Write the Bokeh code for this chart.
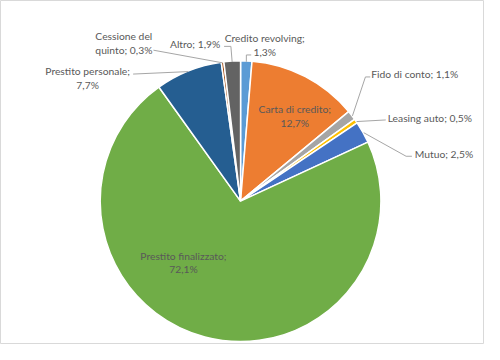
import numpy as np
from bokeh.plotting import figure
from bokeh.models import Range1d, ColumnDataSource
from bokeh.core.properties import value
from bokeh.embed import file_html
from bokeh.resources import INLINE

# ---- data ----
categories = ["Credito revolving", "Carta di credito", "Fido di conto", "Leasing auto",
              "Mutuo", "Prestito finalizzato", "Prestito personale",
              "Cessione del quinto", "Altro"]
values = [1.3, 12.7, 1.1, 0.5, 2.5, 72.1, 7.7, 0.3, 1.9]
colors = ["#5B9BD5", "#ED7D31", "#A5A5A5", "#FFC000", "#4472C4",
          "#70AD47", "#255E91", "#9E480E", "#636363"]

# ---- layout (coords of the 500x360 reference frame) ----
CX, CY, R = 248, 210, 145

def Y(ys):
    return 360 - ys

# label layout: (split text after this prefix or None, anchor x, first line y, align)
label_layout = {
    "Credito revolving":   ("Credito revolving;", 273, 39, "center"),
    "Carta di credito":    ("Carta di credito;", 304, 114, "center"),
    "Fido di conto":       (None, 383, 77, "left"),
    "Leasing auto":        (None, 400, 123, "left"),
    "Mutuo":               (None, 428, 161, "left"),
    "Prestito finalizzato": ("Prestito finalizzato;", 189, 267, "center"),
    "Prestito personale":  ("Prestito personale;", 90, 74, "center"),
    "Cessione del quinto": ("Cessione del", 98, 37, "left"),
    "Altro":               (None, 227, 45, "right"),
}
# leader lines: elbow/end points after the computed start point on the rim
leader_layout = {
    "Credito revolving":  [(254, 57), (259, 57)],
    "Fido di conto":      [(377, 80), (382, 80)],
    "Leasing auto":       [(398, 125)],
    "Mutuo":              [(419, 163), (425, 163)],
    "Prestito personale": [(137, 77)],
    "Cessione del quinto": [(158, 52)],
    "Altro":              [(238, 48), (231, 48)],
}
LINE_H = 14.5

p = figure(width=484, height=344, x_range=Range1d(0, 500), y_range=Range1d(0, 360),
           output_backend="svg", toolbar_location=None, min_border=0)
p.axis.visible = False
p.grid.visible = False
p.outline_line_color = "#D9D9D9"
p.outline_line_width = 1
p.background_fill_color = "white"
p.border_fill_color = "white"

total = sum(values)
cum = np.cumsum([0] + values)
starts = [np.pi / 2 - 2 * np.pi * cum[i] / total for i in range(len(values))]
ends = [np.pi / 2 - 2 * np.pi * cum[i + 1] / total for i in range(len(values))]

src = ColumnDataSource(dict(start=starts, end=ends, color=colors, cat=categories))
p.wedge(x=CX, y=Y(CY), radius=R, start_angle="start", end_angle="end",
        direction="clock", fill_color="color", line_color="white", line_width=1.5,
        source=src)

# leader lines
for i, cat in enumerate(categories):
    if cat not in leader_layout:
        continue
    mid = (cum[i] + cum[i + 1]) / 2 / total * 2 * np.pi
    sx = CX + (R + 1) * np.sin(mid)
    sy = CY - (R + 1) * np.cos(mid)
    pts = [(sx, sy)] + leader_layout[cat]
    p.line([q[0] for q in pts], [Y(q[1]) for q in pts], line_color="#A6A6A6", line_width=1)

# labels
for cat, v in zip(categories, values):
    full = f"{cat}; {v:.1f}%".replace(".", ",")
    split, lx, ly, align = label_layout[cat]
    if split is None:
        lines = [full]
    else:
        lines = [split, full[len(split):].strip()]
    for k, t in enumerate(lines):
        p.text(x=[lx], y=[Y(ly + k * LINE_H)], text=[t], text_align=align,
               text_baseline="middle", text_font=value("Lato"),
               text_font_size="10.3px", text_color="#595959")

open("out.html", "w").write(file_html(p, INLINE))
